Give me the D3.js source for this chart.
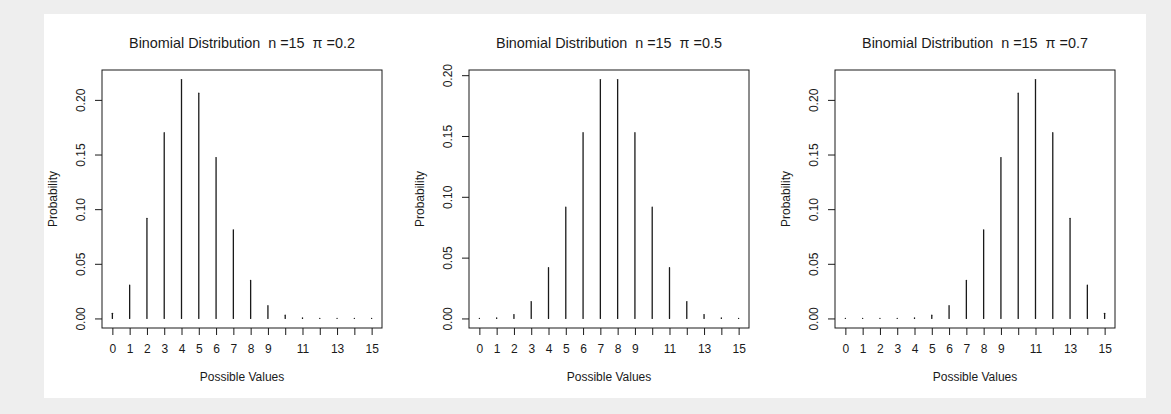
<!DOCTYPE html>
<html>
<head>
<meta charset="utf-8">
<script src="https://cdn.jsdelivr.net/npm/d3@7"></script>
<style>
  body { margin: 0; background: #eeeeee; }
  svg { display: block; }
  text { font-family: "Liberation Sans", Arial, sans-serif; fill: #1a1a1a; white-space: pre; }
</style>
</head>
<body>
<div id="chart"></div>
<script>
// possible values 0..15
const xs = [0, 1, 2, 3, 4, 5, 6, 7, 8, 9, 10, 11, 12, 13, 14, 15];
// x labels R manages to fit (10, 12, 14 dropped)
const xLabels = [0, 1, 2, 3, 4, 5, 6, 7, 8, 9, 11, 13, 15];
const yTicks = [0, 0.05, 0.10, 0.15, 0.20];

const titles = [
  'Binomial Distribution  n =15  \u03c0 =0.2',
  'Binomial Distribution  n =15  \u03c0 =0.5',
  'Binomial Distribution  n =15  \u03c0 =0.7'
];

const probsLeft = [0.0047, 0.0305, 0.0916, 0.1700, 0.2186, 0.2061, 0.1472, 0.0811,
  0.0348, 0.0116, 0.0030, 0.0006, 0.0001, 0.0000, 0.0000, 0.0000];
const probsMid = [0.00003, 0.0005, 0.0032, 0.0139, 0.0417, 0.0916, 0.1527, 0.1964,
  0.1964, 0.1527, 0.0916, 0.0417, 0.0139, 0.0032, 0.0005, 0.00003];
const probsRight = [0.0000, 0.0000, 0.0000, 0.0001, 0.0006, 0.0030, 0.0116, 0.0348,
  0.0811, 0.1472, 0.2061, 0.2186, 0.1700, 0.0916, 0.0305, 0.0047];

const panels = [probsLeft, probsMid, probsRight];

const W = 1171, H = 414;
const svg = d3.select('#chart').append('svg')
  .attr('width', W)
  .attr('height', H);

// white card
svg.append('rect')
  .attr('x', 44).attr('y', 14)
  .attr('width', 1102).attr('height', 384)
  .attr('fill', '#ffffff');

const boxW = 280, boxTop = 70, boxBottom = 328;
const lefts = [102, 469, 835];

panels.forEach(function (probs, i) {
  const left = lefts[i];
  const g = svg.append('g').attr('transform', 'translate(' + left + ',0)');

  // R style 4% padding
  const x = d3.scaleLinear().domain([-0.6, 15.6]).range([0, boxW]);
  const ymax = d3.max(probs);
  const pad = ymax * 0.04;
  const y = d3.scaleLinear().domain([-pad, ymax + pad]).range([boxBottom, boxTop]);

  // spikes
  g.selectAll('line.spike')
    .data(xs)
    .enter()
    .append('line')
    .attr('class', 'spike')
    .attr('x1', d => x(d))
    .attr('x2', d => x(d))
    .attr('y1', y(0))
    .attr('y2', d => y(probs[d]))
    .attr('stroke', '#1a1a1a')
    .attr('stroke-width', 1.3)
    .attr('stroke-linecap', 'round');

  // x axis
  const xAxis = d3.axisBottom(x)
    .tickValues(xs)
    .tickSize(7)
    .tickPadding(5)
    .tickFormat(d => xLabels.indexOf(d) >= 0 ? d : '');
  const gx = g.append('g')
    .attr('transform', 'translate(0,' + boxBottom + ')')
    .call(xAxis);
  gx.select('.domain').remove();
  gx.selectAll('line').attr('stroke', '#1a1a1a');
  gx.selectAll('text').style('font-size', '12px').attr('dy', '1.05em');

  // y axis, labels rotated like R (las = 0)
  const yAxis = d3.axisLeft(y)
    .tickValues(yTicks)
    .tickSize(7)
    .tickFormat(d3.format('.2f'));
  const gy = g.append('g').call(yAxis);
  gy.select('.domain').remove();
  gy.selectAll('line').attr('stroke', '#1a1a1a');
  gy.selectAll('text')
    .style('font-size', '12px')
    .attr('x', 0).attr('dy', 0)
    .attr('text-anchor', 'middle')
    .attr('transform', 'translate(-17,0) rotate(-90)');

  // box
  g.append('rect')
    .attr('x', 0).attr('y', boxTop)
    .attr('width', boxW).attr('height', boxBottom - boxTop)
    .attr('fill', 'none')
    .attr('stroke', '#1a1a1a')
    .attr('stroke-width', 1);

  // titles
  g.append('text')
    .attr('x', boxW / 2).attr('y', 48)
    .attr('text-anchor', 'middle')
    .style('font-size', '14.4px')
    .text(titles[i]);

  g.append('text')
    .attr('x', boxW / 2).attr('y', 381)
    .attr('text-anchor', 'middle')
    .style('font-size', '12px')
    .text('Possible Values');

  g.append('text')
    .attr('transform', 'translate(-45,' + ((boxTop + boxBottom) / 2) + ') rotate(-90)')
    .attr('text-anchor', 'middle')
    .style('font-size', '12px')
    .text('Probability');
});
</script>
</body>
</html>
